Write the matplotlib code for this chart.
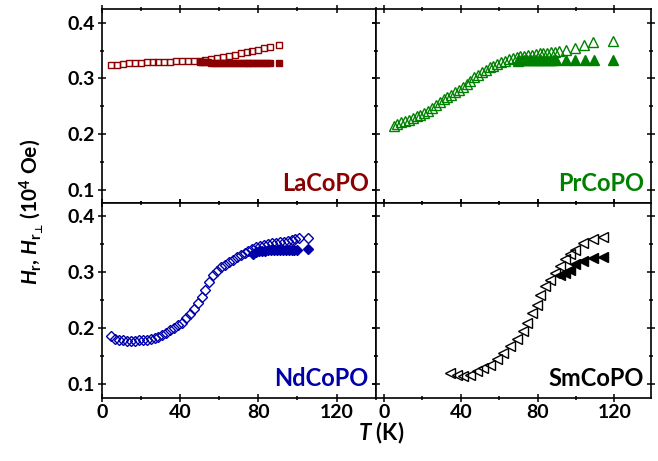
import numpy as np
import matplotlib
matplotlib.use("Agg")
import matplotlib.pyplot as plt
from matplotlib.ticker import MultipleLocator, FormatStrFormatter

plt.rcParams['font.family'] = ['Lato', 'DejaVu Sans']
plt.rcParams['font.weight'] = 'bold'
plt.rcParams['mathtext.fontset'] = 'custom'
plt.rcParams['mathtext.it'] = 'Lato:italic:bold'
plt.rcParams['mathtext.rm'] = 'Lato:bold'
plt.rcParams['mathtext.bf'] = 'Lato:bold'
plt.rcParams['mathtext.sf'] = 'DejaVu Sans:bold'

# LaCoPO
T_la_open = [5, 8, 11, 14, 17, 20, 23, 26, 29, 32, 35, 38, 41, 44, 47, 50, 53, 56, 59,
             62, 65, 68, 71, 74, 77, 80, 83, 86, 90.5]
H_la_open = [0.324, 0.325, 0.326, 0.327, 0.328, 0.328, 0.329, 0.329, 0.330, 0.330, 0.330,
             0.331, 0.331, 0.331, 0.331, 0.332, 0.333, 0.335, 0.336, 0.338, 0.340, 0.343,
             0.346, 0.348, 0.350, 0.352, 0.354, 0.357, 0.360]
T_la_fill = [50, 51.5, 53, 54.5, 56, 57.5, 59, 60.5, 62, 63.5, 65, 66.5, 68, 69.5, 71, 72.5,
             74, 75.5, 77, 78.5, 80, 81.5, 83, 84.5, 86, 90.5]
H_la_fill = [0.329, 0.329, 0.329, 0.329, 0.328, 0.328, 0.328, 0.328, 0.328, 0.328, 0.328,
             0.328, 0.328, 0.328, 0.328, 0.328, 0.328, 0.328, 0.328, 0.328, 0.328, 0.328,
             0.328, 0.328, 0.328, 0.328]

# PrCoPO
T_pr_open = [5, 7, 9, 11, 13, 15, 17, 19, 21, 23, 25, 27, 29, 31, 33, 35, 37, 39, 41, 43,
             45, 47, 49, 51, 53, 55, 57, 59, 61, 63, 65, 67, 69, 71, 73, 75, 77, 79, 81, 83,
             85, 87, 89, 91, 94.5, 99.5, 104, 109, 119]
H_pr_open = [0.215, 0.218, 0.221, 0.223, 0.226, 0.229, 0.232, 0.235, 0.238, 0.242, 0.246,
             0.252, 0.258, 0.263, 0.267, 0.271, 0.275, 0.279, 0.284, 0.290, 0.296, 0.302,
             0.307, 0.312, 0.316, 0.320, 0.323, 0.326, 0.329, 0.332, 0.335, 0.337, 0.339,
             0.340, 0.341, 0.342, 0.343, 0.344, 0.345, 0.345, 0.346, 0.347, 0.348, 0.349,
             0.352, 0.355, 0.361, 0.366, 0.367]
T_pr_fill = [70, 71.5, 73, 74.5, 76, 77.5, 79, 80.5, 82, 83.5, 85, 86.5, 88, 89.5, 94.5,
             99.5, 104.5, 109.5, 119]
H_pr_fill = [0.332, 0.333, 0.333, 0.333, 0.333, 0.333, 0.333, 0.333, 0.333, 0.333, 0.333,
             0.333, 0.333, 0.333, 0.333, 0.333, 0.333, 0.333, 0.333]

# NdCoPO
T_nd_open = [5, 7, 9, 11, 13, 15, 17, 19, 21, 23, 25, 27, 29, 31, 33, 35, 37, 39, 41, 43,
             45, 47, 49, 51, 53, 55, 57, 59, 61, 63, 65, 67, 69, 71, 73, 75, 77, 79, 81, 83,
             85, 87, 89, 91, 93, 95, 97, 99, 101, 105.5]
H_nd_open = [0.186, 0.181, 0.179, 0.178, 0.177, 0.177, 0.177, 0.178, 0.178, 0.179, 0.180,
             0.182, 0.184, 0.187, 0.191, 0.196, 0.200, 0.205, 0.210, 0.218, 0.226, 0.235,
             0.245, 0.256, 0.268, 0.283, 0.295, 0.303, 0.309, 0.313, 0.318, 0.322, 0.327,
             0.331, 0.335, 0.339, 0.342, 0.345, 0.347, 0.349, 0.351, 0.352, 0.353, 0.354,
             0.355, 0.356, 0.357, 0.359, 0.361, 0.362]
T_nd_fill = [77.5, 79, 80.5, 82, 83.5, 85, 86.5, 88, 89.5, 91, 92.5, 94, 95.5, 97, 98.5,
             100, 105.5]
H_nd_fill = [0.333, 0.336, 0.338, 0.339, 0.339, 0.340, 0.340, 0.340, 0.340, 0.340, 0.340,
             0.340, 0.340, 0.340, 0.340, 0.340, 0.341]

# SmCoPO
T_sm_open = [34.4, 37.9, 41.3, 44.8, 48.3, 51.7, 55.2, 58.7, 62.2, 65.6, 69.1, 72.6, 74.3,
             76.9, 79.5, 81.3, 83.9, 86.5, 89, 91.7, 94.3, 96.9, 99.5, 103.8, 109, 114.2]
H_sm_open = [0.120, 0.117, 0.114, 0.117, 0.123, 0.129, 0.135, 0.144, 0.156, 0.168, 0.180,
             0.195, 0.210, 0.228, 0.242, 0.260, 0.275, 0.287, 0.299, 0.311, 0.323, 0.332,
             0.340, 0.352, 0.360, 0.364]
T_sm_fill = [91.7, 94.3, 96.9, 99.5, 103.8, 109, 114.2]
H_sm_fill = [0.296, 0.299, 0.305, 0.314, 0.320, 0.325, 0.327]

W, Hh = 658, 461
fig = plt.figure(figsize=(W / 100, Hh / 100), dpi=100)

L, M, R = 101.7 / W, 375.7 / W, 651 / W
TOP, MID, BOT = 1 - 9.5 / Hh, 1 - 203 / Hh, 1 - 397.5 / Hh

ax_la = fig.add_axes([L, MID, M - L, TOP - MID])
ax_pr = fig.add_axes([M, MID, R - M, TOP - MID])
ax_nd = fig.add_axes([L, BOT, M - L, MID - BOT])
ax_sm = fig.add_axes([M, BOT, R - M, MID - BOT])

panels = [
    (ax_la, T_la_open, H_la_open, T_la_fill, H_la_fill, 's', 5, '#8b0000', 'LaCoPO'),
    (ax_pr, T_pr_open, H_pr_open, T_pr_fill, H_pr_fill, '^', 6.5, '#008000', 'PrCoPO'),
    (ax_nd, T_nd_open, H_nd_open, T_nd_fill, H_nd_fill, 'D', 5, '#0000a8', 'NdCoPO'),
    (ax_sm, T_sm_open, H_sm_open, T_sm_fill, H_sm_fill, '<', 6.5, 'black', 'SmCoPO'),
]

for ax, to, ho, tf, hf, mk, ms, col, name in panels:
    ax.plot(to, ho, ls='none', marker=mk, ms=ms, mfc='none', mec=col, mew=1.0)
    ax.plot(tf, hf, ls='none', marker=mk, ms=ms, mfc=col, mec=col, mew=1.0)
    ax.set_ylim(0.076, 0.424)
    ax.xaxis.set_major_locator(MultipleLocator(40))
    ax.xaxis.set_minor_locator(MultipleLocator(20))
    ax.yaxis.set_major_locator(MultipleLocator(0.1))
    ax.yaxis.set_minor_locator(MultipleLocator(0.05))
    ax.yaxis.set_major_formatter(FormatStrFormatter('%.1f'))
    ax.tick_params(which='both', direction='inout', top=True, right=True, width=1.1,
                   labelsize=14, pad=2)
    ax.tick_params(which='major', length=6)
    ax.tick_params(which='minor', length=3.5)
    for sp in ax.spines.values():
        sp.set_linewidth(1.2)
    ax.text(0.975, 0.06, name, transform=ax.transAxes, ha='right', va='baseline',
            color=col, fontsize=17, fontweight='bold')

ax_la.set_xlim(0, 140)
ax_nd.set_xlim(0, 140)
ax_pr.set_xlim(-4.3, 139)
ax_sm.set_xlim(-4.3, 139)

for ax in (ax_la, ax_pr):
    ax.tick_params(labelbottom=False)
for ax in (ax_pr, ax_sm):
    ax.tick_params(labelleft=False)

fig.canvas.draw()
for ax in (ax_la, ax_pr, ax_nd, ax_sm):
    for lab in ax.get_xticklabels() + ax.get_yticklabels():
        lab.set_fontweight('bold')

fig.text(32 / W, 1 - 212 / Hh,
         r'$H_\mathrm{r}$, $H_{\mathrm{r}_\mathsf{⊥}}$ (10$^\mathrm{4}$ Oe)',
         rotation=90, ha='center', va='center', fontsize=15, fontweight='bold')
fig.text(381 / W, 1 - 433 / Hh, r'$T$ (K)', ha='center', va='center',
         fontsize=16, fontweight='bold')

fig.savefig('out.png', dpi=100)
